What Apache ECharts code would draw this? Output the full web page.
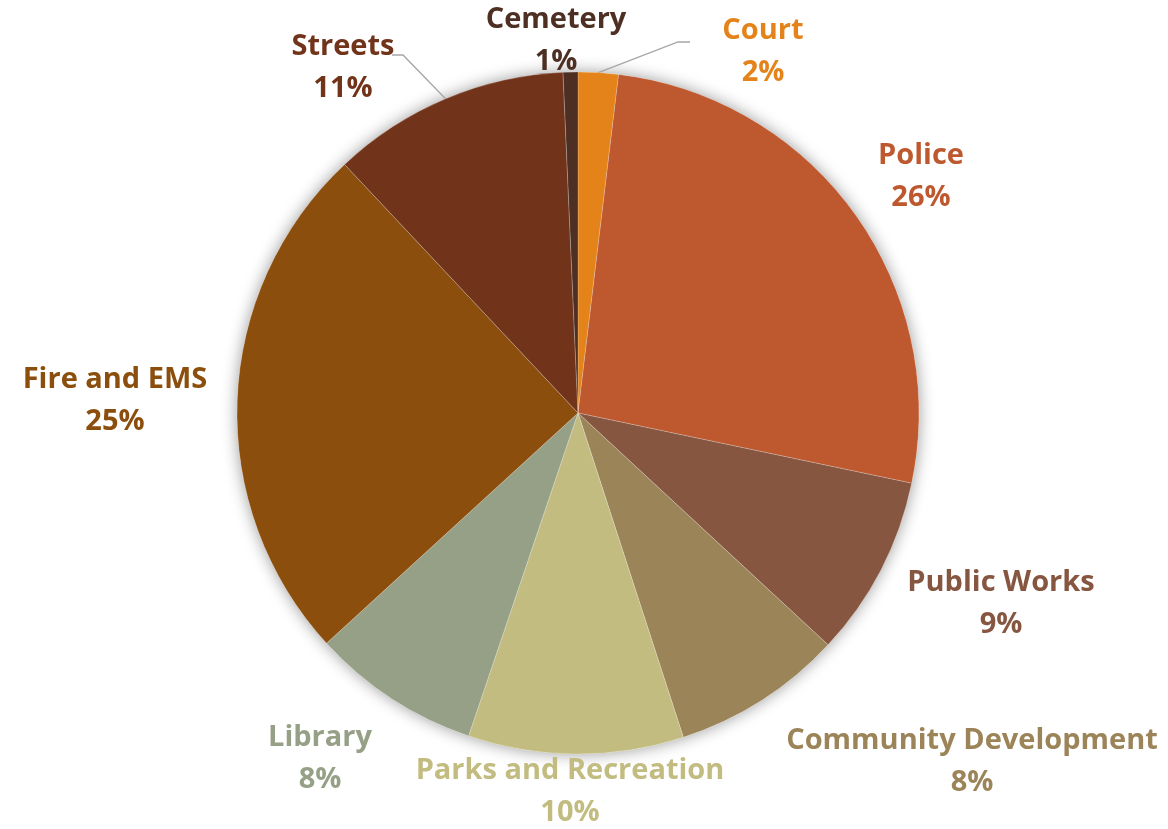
<!DOCTYPE html>
<html>
<head>
<meta charset="utf-8">
<script src="https://cdn.jsdelivr.net/npm/echarts@6/dist/echarts.min.js"></script>
<style>
  html, body { margin: 0; padding: 0; background: #ffffff; }
  #chart { width: 1168px; height: 829px; }
</style>
</head>
<body>
<div id="chart"></div>
<script>
// Budget share by department, clockwise from 12 o'clock
const departments = ['Court', 'Police', 'Public Works', 'Community Development',
  'Parks and Recreation', 'Library', 'Fire and EMS', 'Streets', 'Cemetery'];
const shares = [1.9, 26.4, 8.6, 8.1, 10.2, 8.0, 24.8, 11.3, 0.7];
const colors = ['#E3831A', '#BE582E', '#875640', '#9C8459',
  '#C3BC80', '#96A087', '#8B4E0C', '#71341A', '#4D3023'];
// Departments whose labels sit away from the rim and get a leader line
const leaderLines = ['Court', 'Streets'];

// Label block centres (name + percent) around the pie
const labelSpots = {
  'Court': [763, 52],
  'Police': [921, 177],
  'Public Works': [1001, 604],
  'Community Development': [972, 762],
  'Parks and Recreation': [570, 792],
  'Library': [320, 759],
  'Fire and EMS': [115, 401],
  'Streets': [343, 68],
  'Cemetery': [556, 41]
};

const total = shares.reduce((a, b) => a + b, 0);
const chart = echarts.init(document.getElementById('chart'), null, { renderer: 'canvas' });

const center = [578, 413];
const radius = 341;

chart.setOption({
  backgroundColor: '#ffffff',
  animation: false,
  series: [
    {
      // soft drop shadow behind the whole disc
      type: 'pie',
      silent: true,
      center: center,
      radius: radius,
      label: { show: false },
      labelLine: { show: false },
      itemStyle: {
        color: '#ffffff',
        shadowBlur: 16,
        shadowColor: 'rgba(0,0,0,0.4)'
      },
      data: [{ name: 'all', value: total }],
      z: 1
    },
    {
      type: 'pie',
      center: center,
      radius: radius,
      startAngle: 90,
      clockwise: true,
      percentPrecision: 0,
      avoidLabelOverlap: false,
      itemStyle: { borderColor: 'rgba(255,255,255,0.35)', borderWidth: 0.6 },
      label: {
        show: true,
        position: 'outside',
        formatter: '{b}\n{d}%',
        fontFamily: 'Open Sans',
        fontWeight: 'bold',
        fontSize: 29,
        lineHeight: 42,
        align: 'center'
      },
      labelLine: { show: false },
      labelLayout: function (params) {
        const name = departments[params.dataIndex];
        const spot = labelSpots[name];
        const out = { x: spot[0], y: spot[1], align: 'center', verticalAlign: 'middle' };
        if (leaderLines.indexOf(name) >= 0 && params.labelLinePoints) {
          const start = params.labelLinePoints[0];
          if (name === 'Streets') {
            out.labelLinePoints = [start, [403, 55], [392, 55]];
          } else {
            out.labelLinePoints = [start, [678, 42], [690, 42]];
          }
        }
        return out;
      },
      data: departments.map((name, i) => ({
        name: name,
        value: shares[i],
        itemStyle: { color: colors[i] },
        label: { color: colors[i] },
        labelLine: leaderLines.indexOf(name) >= 0
          ? { show: true, length: 10, length2: 10, lineStyle: { color: '#A6A6A6', width: 1.3 } }
          : { show: false }
      })),
      z: 2
    }
  ]
});
</script>
</body>
</html>
